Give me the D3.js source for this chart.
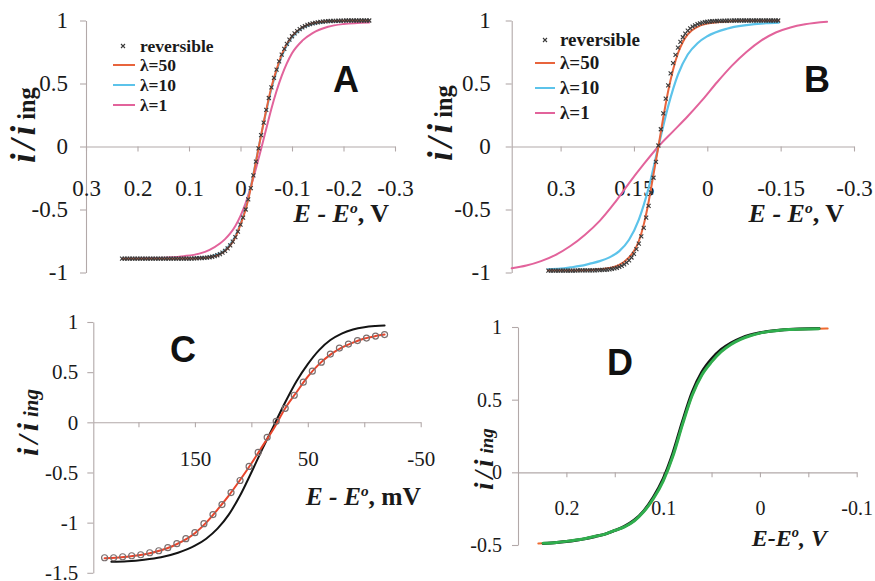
<!DOCTYPE html>
<html><head><meta charset="utf-8">
<script src="https://cdn.jsdelivr.net/npm/d3@7"></script>
<style>body{margin:0;background:#fff} text{font-family:'Liberation Serif','Times New Roman',serif}</style></head>
<body>
<svg id="c" width="875" height="581"></svg>
<script>
// ---------------- DATA ----------------
// Panel A
const A_revStart = 0.23, A_revStep = -0.005;
const A_rev = [-0.89,-0.89,-0.89,-0.89,-0.89,-0.89,-0.89,-0.89,-0.89,-0.89,-0.89,-0.89,-0.89,-0.89,-0.89,-0.89,-0.89,-0.89,-0.89,-0.89,-0.89,-0.89,-0.89,-0.89,-0.89,-0.89,-0.89,
 -0.889,-0.888,-0.887,-0.886,-0.885,-0.884,-0.882,-0.879,-0.875,-0.870,
 -0.863,-0.855,-0.843,-0.828,-0.808,-0.785,-0.755,-0.720,-0.675,-0.620,
 -0.565,-0.500,-0.420,-0.330,-0.230,-0.120,-0.015,0.090,0.190,0.290,
 0.385,0.470,0.545,0.610,0.675,0.730,0.775,0.815,0.848,0.875,
 0.897,0.915,0.932,0.945,0.956,0.965,0.972,0.978,0.982,0.986,
 0.989,0.991,0.993,0.995,0.996,0.997,0.997,0.998,0.998,0.999,
 1,1,1,1,1,1,1,1,1,1];
const A_lineE = [0.23,0.2,0.17,0.14,0.11,0.08,0.06,0.04,0.03,0.02,0.01,0,-0.01,-0.02,-0.03,-0.04,-0.05,-0.06,-0.07,-0.08,-0.1,-0.12,-0.14,-0.17,-0.2,-0.25];
const A_l50 = [-0.89,-0.89,-0.89,-0.89,-0.889,-0.886,-0.879,-0.855,-0.828,-0.785,-0.72,-0.62,-0.50,-0.33,-0.12,0.09,0.29,0.47,0.61,0.73,0.875,0.945,0.978,0.995,0.999,1];
const A_l10 = [-0.89,-0.89,-0.89,-0.889,-0.887,-0.883,-0.874,-0.848,-0.82,-0.775,-0.71,-0.61,-0.49,-0.32,-0.115,0.09,0.28,0.455,0.595,0.715,0.865,0.94,0.972,0.99,0.997,1];
const A_l1  = [-0.89,-0.888,-0.885,-0.88,-0.87,-0.85,-0.82,-0.77,-0.735,-0.69,-0.63,-0.55,-0.45,-0.32,-0.175,-0.02,0.14,0.30,0.44,0.56,0.74,0.84,0.90,0.95,0.972,0.985];
const A_xTicks = [0.3,0.2,0.1,0,-0.1,-0.2,-0.3];

// Panel B
const B_revStart = 0.325, B_revStep = -0.005;
const B_rev = [-0.985,-0.985,-0.985,-0.985,-0.985,-0.985,-0.985,-0.985,-0.985,-0.985,-0.985,-0.985,-0.984,-0.984,-0.984,-0.984,-0.984,-0.984,
 -0.983,-0.983,-0.982,-0.981,-0.980,-0.979,-0.977,-0.975,-0.972,-0.968,-0.963,-0.956,-0.947,-0.936,-0.922,-0.904,-0.881,-0.852,-0.815,-0.770,-0.713,-0.646,-0.565,-0.471,-0.365,-0.248,-0.122,0.008,
 0.137,0.263,0.380,0.486,0.580,0.661,0.728,0.785,0.830,0.867,0.896,0.919,0.937,0.951,0.962,0.971,0.978,0.983,0.987,0.990,0.992,0.994,0.995,0.996,0.997,0.997,0.998,0.998,0.999,0.999,
 1,1,1,1,1,1,1,1,1,1,1,1,1,1,1,1,1,1,1];
const B_l50E = [0.326,0.28,0.24,0.22,0.2,0.18,0.16,0.15,0.14,0.13,0.12,0.11,0.1,0.09,0.08,0.07,0.06,0.05,0.04,0.02,0,-0.04,-0.08,-0.146];
const B_l50  = [-0.985,-0.984,-0.98,-0.975,-0.965,-0.94,-0.88,-0.83,-0.75,-0.62,-0.44,-0.22,0.0,0.23,0.44,0.61,0.74,0.83,0.89,0.95,0.975,0.993,0.998,1.0];
const B_l10E = [0.326,0.3,0.28,0.26,0.24,0.22,0.2,0.18,0.16,0.14,0.12,0.1,0.08,0.06,0.04,0.02,0,-0.04,-0.08,-0.12,-0.146];
const B_l10  = [-0.975,-0.97,-0.96,-0.948,-0.93,-0.91,-0.88,-0.83,-0.74,-0.58,-0.33,0.0,0.32,0.57,0.73,0.82,0.875,0.935,0.963,0.978,0.983];
const B_l1E  = [0.4,0.37,0.34,0.31,0.28,0.25,0.22,0.19,0.16,0.13,0.1,0.07,0.04,0.01,-0.02,-0.05,-0.08,-0.11,-0.14,-0.17,-0.2,-0.245];
const B_l1   = [-0.967,-0.945,-0.91,-0.86,-0.79,-0.70,-0.59,-0.45,-0.29,-0.14,0.0,0.12,0.24,0.37,0.51,0.64,0.75,0.84,0.905,0.945,0.97,0.99];
const B_xTicks = [0.3,0.15,0,-0.15,-0.3];

// Panel C (mV)
const C_ptsE = [230,222,214,206,198,190,182,174,166,158,150,142,134,126,118,110,102,94,86,78,70,62,54,46,38,30,22,14,6,-2,-10,-18];
const C_pts  = [-1.35,-1.35,-1.34,-1.33,-1.32,-1.30,-1.28,-1.25,-1.21,-1.16,-1.10,-1.01,-0.92,-0.82,-0.70,-0.58,-0.44,-0.30,-0.15,0.01,0.14,0.27,0.40,0.51,0.60,0.68,0.74,0.78,0.815,0.84,0.86,0.875];
const C_redE = [230,220,210,200,190,180,170,160,150,140,130,120,110,100,90,80,70,60,50,40,30,20,10,0,-10,-18];
const C_red  = [-1.355,-1.35,-1.34,-1.325,-1.305,-1.275,-1.235,-1.18,-1.105,-1.0,-0.87,-0.73,-0.575,-0.41,-0.235,-0.06,0.14,0.30,0.455,0.58,0.675,0.745,0.795,0.835,0.86,0.875];
const C_blkE = [224,210,195,180,165,150,140,130,120,110,100,90,80,70,60,50,40,30,20,10,0,-10,-18];
const C_blk  = [-1.39,-1.385,-1.37,-1.345,-1.30,-1.23,-1.16,-1.06,-0.92,-0.73,-0.50,-0.26,-0.03,0.20,0.41,0.58,0.72,0.82,0.885,0.925,0.948,0.96,0.966];
const C_xTicks = [200,150,100,50,0,-50];
const C_xLabels = [150,50,-50];

// Panel D
const D_orgE = [0.229,0.22,0.21,0.20,0.19,0.18,0.17,0.16,0.15,0.14,0.13,0.12,0.11,0.10,0.09,0.08,0.07,0.06,0.05,0.04,0.03,0.02,0.01,0.0,-0.01,-0.02,-0.03,-0.04,-0.05,-0.06,-0.07];
const D_org  = [-0.490,-0.487,-0.482,-0.475,-0.466,-0.455,-0.44,-0.425,-0.40,-0.375,-0.335,-0.27,-0.18,-0.06,0.11,0.33,0.53,0.67,0.76,0.83,0.88,0.915,0.94,0.958,0.97,0.977,0.982,0.985,0.987,0.988,0.989];
const D_lineE = [0.224,0.21,0.2,0.19,0.18,0.17,0.16,0.15,0.14,0.13,0.12,0.11,0.1,0.09,0.08,0.07,0.06,0.05,0.04,0.03,0.02,0.01,0,-0.01,-0.02,-0.03,-0.04,-0.05,-0.061];
const D_grn  = [-0.488,-0.482,-0.475,-0.466,-0.455,-0.44,-0.425,-0.40,-0.375,-0.335,-0.27,-0.18,-0.06,0.11,0.33,0.53,0.67,0.76,0.83,0.88,0.915,0.94,0.958,0.97,0.977,0.982,0.985,0.987,0.988];
const D_blk  = [-0.489,-0.483,-0.476,-0.467,-0.456,-0.441,-0.425,-0.40,-0.372,-0.33,-0.265,-0.17,-0.045,0.13,0.35,0.55,0.69,0.78,0.845,0.89,0.922,0.945,0.96,0.971,0.978,0.983,0.986,0.988,0.989];
const D_xTicks = [0.2,0.15,0.1,0.05,0,-0.05,-0.1];
const D_xLabels = [0.2,0.1,0,-0.1];

const legendNames = ["reversible","λ=50","λ=10","λ=1"];

// ---------------- DRAW ----------------
const svg = d3.select("#c");
const AXC = "#b2a9a9", TXT = "#1a1a1a";
const COL = {l50:"#e8643c", l10:"#5cc3ea", l1:"#e2639b", blk:"#141414", red:"#e8452c", grn:"#2fae4e", org:"#f06a30"};
const SERIF = "'Liberation Serif','Times New Roman',serif";
const SANS = "'Liberation Sans',Arial,sans-serif";
const fmt = d => String(+d.toFixed(3));

function panel(c) {
  const x = d3.scaleLinear().domain(c.xd).range(c.xr);
  const y = d3.scaleLinear().domain(c.yd).range(c.yr);
  const g = svg.append("g");
  const ya = g.append("g").attr("transform", `translate(${c.xr[0]},0)`)
    .call(d3.axisLeft(y).tickValues(c.yt).tickSize(6).tickSizeOuter(0).tickPadding(c.ypad).tickFormat(fmt));
  const xa = g.append("g").attr("transform", `translate(0,${y(0)})`)
    .call(d3.axisBottom(x).tickValues(c.xt).tickSize(5).tickSizeOuter(0).tickPadding(c.xpad)
      .tickFormat(d => (c.xl ? c.xl.includes(d) : true) ? fmt(d) : ""));
  [ya, xa].forEach(a => {
    a.attr("font-family", null).attr("font-size", null);
    a.selectAll("path,line").attr("stroke", AXC).attr("stroke-width", 1.1);
    a.selectAll("text").attr("fill", TXT).style("font-family", SERIF).style("font-size", c.fs + "px");
  });
  return {x, y, g};
}
function line(p, E, V, color, w) {
  const pts = E.map((e, i) => [e, V[i]]);
  p.g.append("path").datum(pts).attr("fill", "none").attr("stroke", color).attr("stroke-width", w)
    .attr("stroke-linejoin", "round").attr("stroke-linecap", "round")
    .attr("d", d3.line().x(d => p.x(d[0])).y(d => p.y(d[1])).curve(d3.curveMonotoneX));
}
function crosses(p, start, step, V) {
  p.g.append("g").selectAll("path").data(V).join("path")
    .attr("transform", (v, i) => `translate(${p.x(start + i * step)},${p.y(v)})`)
    .attr("d", "M-2,-2L2,2M-2,2L2,-2").attr("stroke", "#3a3a3a").attr("stroke-width", 1.1).attr("fill", "none");
}
function xTitle(x, y, fs, parts) {
  const t = svg.append("text").attr("x", x).attr("y", y).attr("text-anchor", "end")
    .style("font-family", SERIF).style("font-size", fs + "px").attr("font-weight", "bold").attr("fill", TXT);
  parts.forEach(p => {
    const s = t.append("tspan").text(p.t).attr("font-style", p.i ? "italic" : "normal");
    if (p.sup) s.style("font-size", (fs * 0.6) + "px").attr("dy", -fs * 0.36);
    if (p.down) s.attr("dy", fs * 0.36);
  });
}
function yTitle(x, y, fs, ingItalic) {
  const t = svg.append("text").attr("transform", `translate(${x},${y}) rotate(-90)`)
    .style("font-family", SERIF).attr("font-weight", "bold").attr("fill", TXT);
  t.append("tspan").text("i/i").style("font-size", fs + "px").attr("font-style", "italic").attr("letter-spacing", 4);
  t.append("tspan").text("ing").style("font-size", (fs * 0.7) + "px").attr("font-style", ingItalic ? "italic" : "normal").attr("dx", 2);
}
function letter(x, y, s) {
  svg.append("text").attr("x", x).attr("y", y).attr("text-anchor", "middle").text(s)
    .style("font-family", SANS).attr("font-weight", "bold").style("font-size", "36px").attr("fill", "#111");
}
function legend(x0, yRows, lineX, fs) {
  const g = svg.append("g").attr("font-weight", "bold").attr("fill", TXT);
  g.append("path").attr("transform", `translate(${lineX[0] + 10},${yRows[0]})`)
    .attr("d", "M-2,-2L2,2M-2,2L2,-2").attr("stroke", "#3a3a3a").attr("stroke-width", 1.1);
  const cols = [null, COL.l50, COL.l10, COL.l1];
  legendNames.forEach((n, i) => {
    if (i > 0) g.append("line").attr("x1", lineX[0]).attr("x2", lineX[1]).attr("y1", yRows[i]).attr("y2", yRows[i])
      .attr("stroke", cols[i]).attr("stroke-width", 2);
    g.append("text").attr("x", x0).attr("y", yRows[i] + 5.5).text(n)
      .style("font-family", SERIF).style("font-size", fs + "px");
  });
}

// Panel A
const pA = panel({xd:[0.3,-0.3], xr:[86,395], yd:[-1,1], yr:[272.5,20.5], yt:[-1,-0.5,0,0.5,1], xt:A_xTicks, ypad:12, xpad:28, fs:23});
line(pA, A_lineE, A_l1, COL.l1, 2);
line(pA, A_lineE, A_l10, COL.l10, 2);
line(pA, A_lineE, A_l50, COL.l50, 2);
crosses(pA, A_revStart, A_revStep, A_rev);
legend(140, [46, 65, 85, 105], [113, 135], 17.5);
letter(346, 92, "A");
xTitle(389, 222, 26, [{t:"E - E", i:true}, {t:"o", i:true, sup:true}, {t:", V", down:true}]);
yTitle(35, 163, 35, false);

// Panel B
const pB = panel({xd:[0.4,-0.3], xr:[511.7,854], yd:[-1,1], yr:[272.5,20.5], yt:[-1,-0.5,0,0.5,1], xt:B_xTicks, ypad:15, xpad:28, fs:23});
line(pB, B_l1E, B_l1, COL.l1, 2);
line(pB, B_l10E, B_l10, COL.l10, 2.2);
line(pB, B_l50E, B_l50, COL.l50, 2);
crosses(pB, B_revStart, B_revStep, B_rev);
legend(560, [40, 63, 88, 113], [535, 555], 19);
letter(817, 92, "B");
xTitle(844, 222, 26, [{t:"E - E", i:true}, {t:"o", i:true, sup:true}, {t:", V", down:true}]);
yTitle(452, 161, 35, false);

// Panel C
const pC = panel({xd:[240,-50], xr:[93.3,420.7], yd:[-1.5,1], yr:[572.8,322], yt:[-1.5,-1,-0.5,0,0.5,1], xt:C_xTicks, xl:C_xLabels, ypad:9, xpad:24, fs:21});
line(pC, C_blkE, C_blk, COL.blk, 2);
line(pC, C_redE, C_red, COL.red, 2);
pC.g.append("g").selectAll("circle").data(C_pts).join("circle")
  .attr("cx", (v, i) => pC.x(C_ptsE[i])).attr("cy", v => pC.y(v)).attr("r", 3)
  .attr("fill", "none").attr("stroke", "#7a6f6f").attr("stroke-width", 1.2);
letter(183, 362, "C");
xTitle(421, 505, 25.5, [{t:"E - E", i:true}, {t:"o", i:true, sup:true}, {t:", mV", down:true}]);
yTitle(38, 456, 30, true);

// Panel D
const pD = panel({xd:[0.25,-0.1], xr:[518,856.7], yd:[-0.5,1], yr:[545,327], yt:[-0.5,0,0.5,1], xt:D_xTicks, xl:D_xLabels, ypad:10, xpad:23, fs:20});
line(pD, D_orgE, D_org, COL.org, 2);
line(pD, D_lineE, D_blk, COL.blk, 3);
line(pD, D_lineE, D_grn, COL.grn, 3);
letter(620, 375, "D");
xTitle(827, 546, 24, [{t:"E-E", i:true}, {t:"o", i:true, sup:true}, {t:", V", i:true, down:true}]);
yTitle(493, 490, 27, true);
</script>
</body></html>
